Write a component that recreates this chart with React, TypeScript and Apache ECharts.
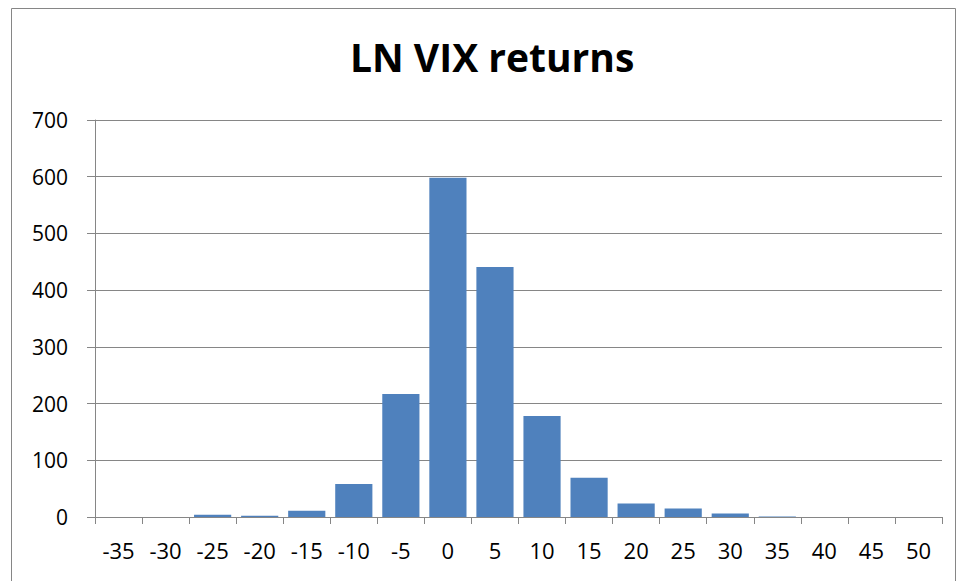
import React, { useEffect, useRef } from "react";
import * as echarts from "echarts";

const categories = ["-35", "-30", "-25", "-20", "-15", "-10", "-5", "0", "5", "10", "15", "20", "25", "30", "35", "40", "45", "50"];
const counts = [0, 0, 4, 2, 11, 58, 217, 598, 441, 178, 69, 24, 15, 6, 1, 0, 0, 0];
const yTicks = [0, 100, 200, 300, 400, 500, 600, 700];

export default function App() {
  const ref = useRef<HTMLDivElement>(null);
  useEffect(() => {
    if (!ref.current) return;
    const chart = echarts.init(ref.current, null, { renderer: "svg" });
    const font = "'Open Sans', 'Noto Sans', sans-serif";
    chart.setOption({
      animation: false,
      backgroundColor: "#ffffff",
      title: {
        text: "LN VIX returns",
        left: 345,
        top: 32,
        textStyle: { fontFamily: font, fontWeight: "bold", fontSize: 39, color: "#000" },
      },
      graphic: [
        {
          type: "rect",
          shape: { x: 11.5, y: 8.5, width: 944, height: 600 },
          style: { fill: "none", stroke: "#868686", lineWidth: 1 },
          silent: true,
        },
      ],
      grid: { left: 95, right: 16, top: 120, bottom: 64 },
      xAxis: {
        type: "category",
        data: categories,
        axisLine: { show: true, lineStyle: { color: "#868686", width: 1 } },
        axisTick: { show: true, alignWithLabel: false, length: 7, lineStyle: { color: "#868686" } },
        axisLabel: { color: "#000", fontFamily: font, fontSize: 22, margin: 22 },
      },
      yAxis: {
        type: "value",
        min: 0,
        max: yTicks[yTicks.length - 1],
        interval: 100,
        axisLine: { show: true, lineStyle: { color: "#868686", width: 1 } },
        axisTick: { show: true, inside: false, length: 8, lineStyle: { color: "#868686" } },
        axisLabel: { color: "#000", fontFamily: font, fontSize: 21, margin: 27 },
        splitLine: { show: true, lineStyle: { color: "#868686", width: 1 } },
      },
      series: [
        {
          type: "bar",
          data: counts,
          barCategoryGap: "21%",
          itemStyle: { color: "#4F81BD" },
        },
      ],
    });
    return () => chart.dispose();
  }, []);
  return <div ref={ref} style={{ position: "fixed", left: 0, top: 0, width: 958, height: 581 }} />;
}
